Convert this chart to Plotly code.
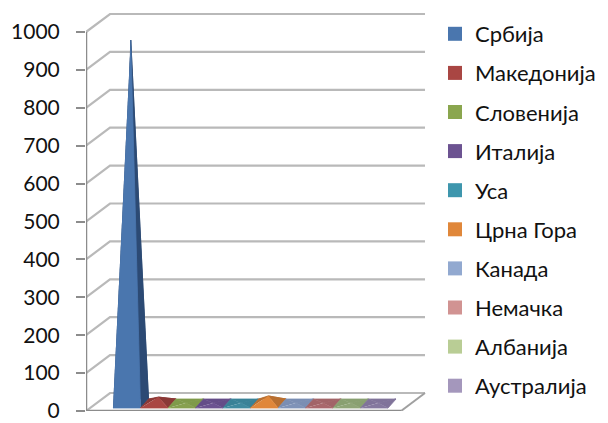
import plotly.graph_objects as go

countries = ["Србија", "Македонија", "Словенија", "Италија", "Уса", "Црна Гора", "Канада", "Немачка", "Албанија", "Аустралија"]
values = [959, 17, 1, 1, 1, 20, 1, 1, 1, 1]
tick_values = [0, 100, 200, 300, 400, 500, 600, 700, 800, 900, 1000]
legend_colors = ["#4a76ae", "#a94643", "#8aa64e", "#6c5391", "#3e96ad", "#e0873a", "#92a9d0", "#d19392", "#b9cd95", "#a497bc"]
front_colors = ["#4a76ae", "#a94643", "#87a04f", "#6c5391", "#3f8a9f", "#e0873a", "#7f93b8", "#a9686c", "#8fa577", "#85789f"]
side_colors = ["#2c4a74", "#8a3836", "#7f9a4a", "#644d88", "#398297", "#b86f30", "#7a8eb3", "#a26468", "#89a071", "#80739a"]

W, H = 608, 423
L, R, T, B = 86, 430, 4, 411
PX_X = 27.5
PX_Y = 0.379
XMIN = -0.5 - (113 - L) / PX_X
XMAX = -0.5 + (R - 113) / PX_X
YMAX = (B - T) / PX_Y
DX, DY = 24 / PX_X, 18 / PX_Y
BX, B0, B1 = 8 / PX_X, 3 / PX_Y, 12 / PX_Y
X_END = -0.5 + (401 - 113) / PX_X

fig = go.Figure()
line_c = "#b9b9b9"
for t in tick_values:
    fig.add_trace(go.Scatter(x=[XMIN, XMIN + DX, X_END + DX], y=[t, t + DY, t + DY], mode="lines",
                             line=dict(color=line_c, width=2.2), showlegend=False, hoverinfo="skip"))
fig.add_trace(go.Scatter(x=[X_END, X_END + DX], y=[0, DY], mode="lines",
                         line=dict(color="#a0a0a0", width=2), showlegend=False, hoverinfo="skip"))
fig.add_trace(go.Scatter(x=[XMIN, XMIN], y=[0, 1000], mode="lines",
                         line=dict(color="#8c8c8c", width=2.5), showlegend=False, hoverinfo="skip"))
fig.add_trace(go.Scatter(x=[XMIN, X_END], y=[0, 0], mode="lines",
                         line=dict(color="#8c8c8c", width=2.5), showlegend=False, hoverinfo="skip"))


def face(xs, ys, color, group):
    fig.add_trace(go.Scatter(x=xs, y=ys, mode="lines", fill="toself", fillcolor=color,
                             line=dict(width=0.8, color=color), legendgroup=group,
                             showlegend=False, hoverinfo="skip"))


for i, (name, v) in enumerate(zip(countries, values)):
    x0, x1 = i - 0.5, i + 0.5
    ax = i + BX / 2
    ay = (B0 + B1) / 2 + v
    face([x0, x0 + BX, ax], [B0, B1, ay], side_colors[i], name)
    face([x0 + BX, x1 + BX, ax], [B1, B1, ay], side_colors[i], name)
    face([x1, x1 + BX, ax], [B0, B1, ay], side_colors[i], name)
    face([x0, x1, ax], [B0, B0, ay], front_colors[i], name)

for i, name in enumerate(countries):
    fig.add_trace(go.Scatter(x=[None], y=[None], mode="markers", name=name, legendgroup=name,
                             marker=dict(symbol="square", size=14, color=legend_colors[i])))

fig.update_layout(
    width=W, height=H, margin=dict(l=0, r=0, t=0, b=0, autoexpand=False),
    paper_bgcolor="white", plot_bgcolor="white",
    font=dict(family="Lato", color="#111111"),
    xaxis=dict(domain=[L / W, R / W], range=[XMIN, XMAX], visible=False, fixedrange=True, automargin=False),
    yaxis=dict(domain=[(H - B) / H, (H - T) / H], range=[0, YMAX], tickmode="array", automargin=False,
               tickvals=tick_values, ticks="outside", ticklen=9, tickwidth=1.5, tickcolor="#8c8c8c",
               showgrid=False, zeroline=False, showline=False, tickfont=dict(size=21, family="Lato"),
               ticklabelstandoff=12, fixedrange=True),
    legend=dict(x=435 / W, xanchor="left", y=1 - 13 / H, yanchor="top", tracegroupgap=7.5,
                font=dict(size=22, family="Lato"), itemwidth=30, bgcolor="rgba(0,0,0,0)"),
    showlegend=True,
)
fig.write_html("out.html", config={"displayModeBar": False},
               post_script="document.body.style.margin='0';document.documentElement.style.overflow='hidden';")
